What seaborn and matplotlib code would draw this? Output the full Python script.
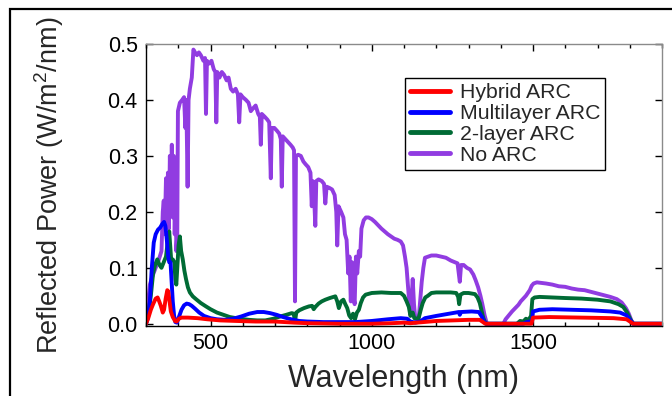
import matplotlib
matplotlib.use("Agg")
import matplotlib.pyplot as plt
from matplotlib.patches import Rectangle
from matplotlib.ticker import MultipleLocator, FormatStrFormatter
import seaborn as sns

# ---- data (wavelength in nm, power in W/m^2/nm) ----
noarc_wl = [300, 305, 312, 320, 330, 340, 348, 352, 355, 358, 362, 365, 368, 371, 374, 377,
            380, 383, 386, 389, 392, 394, 397, 399, 405, 412, 418, 422, 425, 429, 432, 436,
            442, 447, 452, 458, 464, 470, 478, 483, 486, 489, 496, 503, 510, 515, 518, 521,
            528, 535, 542, 550, 556, 563, 570, 578, 585, 589, 593, 600, 610, 618, 625, 632,
            640, 648, 653, 656, 659, 668, 676, 682, 687, 690, 698, 706, 713, 718, 721, 724,
            732, 740, 748, 755, 759, 762, 765, 772, 780, 788, 795, 803, 810, 814, 817, 821,
            825, 828, 835, 845, 852, 856, 860, 868, 877, 885, 890, 893, 897, 905, 912, 917,
            922, 927, 931, 935, 939, 943, 947, 951, 955, 960, 964, 968, 975, 982, 990, 1000,
            1010, 1020, 1030, 1040, 1050, 1060, 1070, 1080, 1090, 1097, 1103, 1108, 1112, 1116,
            1120, 1124, 1127, 1131, 1135, 1140, 1146, 1150, 1155, 1160, 1165, 1175, 1185, 1200,
            1215, 1230, 1245, 1258, 1266, 1270, 1273, 1277, 1285, 1295, 1305, 1315, 1322, 1330,
            1337, 1343, 1350, 1357, 1380, 1408, 1415, 1425, 1435, 1445, 1455, 1462, 1470, 1478,
            1484, 1490, 1496, 1502, 1512, 1525, 1540, 1560, 1580, 1600, 1620, 1640, 1660, 1680,
            1700, 1720, 1740, 1760, 1775, 1788, 1797, 1805, 1812, 1900]
noarc_val = [0.0, 0.03, 0.07, 0.085, 0.10, 0.115, 0.13, 0.20, 0.22, 0.16, 0.26, 0.19, 0.27, 0.17, 0.30, 0.21,
             0.32, 0.19, 0.30, 0.16, 0.25, 0.13, 0.16, 0.38, 0.395, 0.40, 0.405, 0.35, 0.40, 0.245, 0.40, 0.42,
             0.44, 0.49, 0.485, 0.48, 0.485, 0.48, 0.47, 0.475, 0.375, 0.47, 0.465, 0.47, 0.455, 0.45, 0.36, 0.45,
             0.44, 0.45, 0.445, 0.435, 0.44, 0.42, 0.415, 0.42, 0.41, 0.36, 0.41, 0.405, 0.40, 0.395, 0.38, 0.385,
             0.39, 0.375, 0.37, 0.32, 0.375, 0.37, 0.365, 0.36, 0.26, 0.35, 0.35, 0.345, 0.34, 0.33, 0.245, 0.335,
             0.33, 0.325, 0.32, 0.315, 0.31, 0.04, 0.30, 0.302, 0.30, 0.29, 0.285, 0.28, 0.27, 0.21, 0.255, 0.23,
             0.175, 0.255, 0.258, 0.255, 0.25, 0.215, 0.245, 0.243, 0.24, 0.23, 0.20, 0.14, 0.21, 0.20, 0.19, 0.16,
             0.15, 0.09, 0.12, 0.04, 0.11, 0.05, 0.035, 0.12, 0.09, 0.13, 0.12, 0.17, 0.185, 0.19, 0.19, 0.187,
             0.182, 0.176, 0.17, 0.165, 0.16, 0.156, 0.152, 0.15, 0.147, 0.14, 0.12, 0.10, 0.07, 0.04,
             0.015, 0.05, 0.08, 0.035, 0.01, 0.005, 0.012, 0.04, 0.075, 0.10, 0.118, 0.12, 0.122, 0.122,
             0.12, 0.118, 0.113, 0.11, 0.108, 0.09, 0.075, 0.105, 0.105, 0.10, 0.097, 0.088, 0.078, 0.065,
             0.05, 0.035, 0.015, 0.0, 0.0, 0.0, 0.008, 0.015, 0.022, 0.028, 0.034, 0.04, 0.045, 0.05,
             0.055, 0.06, 0.068, 0.072, 0.074, 0.073, 0.072, 0.07, 0.067, 0.066, 0.063, 0.061, 0.06, 0.057,
             0.054, 0.051, 0.048, 0.044, 0.038, 0.028, 0.018, 0.006, 0.0, 0.0]

twolayer_wl = [300, 308, 315, 322, 328, 335, 342, 348, 355, 362, 368, 372, 375, 378, 383, 388,
               391, 394, 397, 401, 405, 409, 414, 419, 424, 430, 436, 445, 455, 470, 486, 500,
               520, 540, 560, 590, 620, 645, 670, 695, 716, 735, 752, 758, 762, 766, 775, 790,
               805, 815, 820, 825, 835, 845, 856, 870, 887, 893, 898, 905, 912, 918, 924, 930,
               936, 942, 948, 954, 960, 966, 973, 981, 1000, 1030, 1060, 1090, 1100, 1108, 1115, 1120,
               1127, 1132, 1145, 1152, 1158, 1166, 1174, 1185, 1200, 1220, 1245, 1262, 1268, 1271, 1275, 1285,
               1300, 1320, 1328, 1335, 1341, 1346, 1352, 1356, 1450, 1460, 1470, 1478, 1486, 1494, 1498, 1505,
               1520, 1560, 1600, 1650, 1700, 1740, 1765, 1780, 1792, 1802, 1810, 1900]
twolayer_val = [0.0, 0.02, 0.05, 0.09, 0.105, 0.115, 0.105, 0.10, 0.11, 0.12, 0.15, 0.165, 0.14, 0.115, 0.115, 0.11,
                0.08, 0.07, 0.10, 0.14, 0.156, 0.13, 0.115, 0.095, 0.08, 0.065, 0.056, 0.049, 0.044, 0.037, 0.031, 0.026,
                0.02, 0.016, 0.012, 0.009, 0.007, 0.006, 0.006, 0.009, 0.013, 0.016, 0.019, 0.018, 0.004, 0.02, 0.024, 0.028,
                0.031, 0.032, 0.026, 0.03, 0.036, 0.04, 0.043, 0.046, 0.049, 0.04, 0.028, 0.04, 0.043, 0.035, 0.028, 0.015,
                0.01, 0.018, 0.008, 0.02, 0.025, 0.037, 0.047, 0.052, 0.055, 0.056, 0.055, 0.055, 0.05, 0.04, 0.03, 0.014,
                0.02, 0.01, 0.009, 0.025, 0.037, 0.047, 0.05, 0.055, 0.056, 0.056, 0.056, 0.055, 0.048, 0.035, 0.052, 0.055,
                0.055, 0.053, 0.047, 0.037, 0.022, 0.01, 0.002, 0.0, 0.0, 0.005, 0.004, 0.009, 0.007, 0.014, 0.044, 0.047,
                0.048, 0.047, 0.046, 0.045, 0.043, 0.04, 0.035, 0.03, 0.02, 0.008, 0.0, 0.0]

multi_wl = [300, 306, 312, 318, 324, 330, 337, 344, 350, 356, 360, 363, 366, 369, 372, 376,
            379, 383, 387, 391, 396, 402, 410, 418, 426, 434, 442, 452, 465, 480, 500, 520,
            545, 570, 595, 620, 645, 665, 685, 705, 725, 750, 775, 800, 850, 900, 950, 1000,
            1050, 1090, 1110, 1120, 1135, 1150, 1165, 1200, 1240, 1270, 1273, 1277, 1310, 1332, 1342, 1348,
            1355, 1470, 1480, 1490, 1497, 1500, 1520, 1560, 1620, 1680, 1740, 1770, 1790, 1802, 1810, 1900]
multi_val = [0.0, 0.01, 0.04, 0.10, 0.145, 0.16, 0.168, 0.172, 0.178, 0.182, 0.175, 0.16, 0.14, 0.12, 0.11, 0.11,
             0.08, 0.04, 0.015, 0.003, 0.002, 0.012, 0.025, 0.033, 0.036, 0.035, 0.032, 0.027, 0.02, 0.014, 0.01, 0.008,
             0.007, 0.009, 0.013, 0.018, 0.021, 0.021, 0.019, 0.016, 0.012, 0.008, 0.005, 0.004, 0.003, 0.003, 0.003, 0.005,
             0.008, 0.01, 0.009, 0.004, 0.002, 0.004, 0.01, 0.014, 0.018, 0.021, 0.016, 0.021, 0.022, 0.021, 0.012, 0.004,
             0.0, 0.0, 0.003, 0.004, 0.005, 0.022, 0.025, 0.026, 0.025, 0.024, 0.022, 0.02, 0.015, 0.006, 0.0, 0.0]

hybrid_wl = [300, 307, 315, 322, 330, 336, 341, 346, 352, 356, 361, 366, 369, 373, 377, 383,
             390, 395, 402, 410, 430, 460, 490, 530, 580, 640, 700, 760, 800, 900, 1000, 1060,
             1100, 1120, 1160, 1200, 1250, 1300, 1335, 1345, 1352, 1495, 1500, 1550, 1650, 1750, 1790, 1803,
             1810, 1900]
hybrid_val = [0.0, 0.01, 0.025, 0.035, 0.045, 0.047, 0.04, 0.032, 0.02, 0.025, 0.045, 0.06, 0.058, 0.04, 0.022, 0.012,
              0.005, 0.004, 0.009, 0.011, 0.011, 0.01, 0.008, 0.006, 0.005, 0.004, 0.004, 0.002, 0.001, 0.0, 0.0, 0.001,
              0.002, 0.001, 0.003, 0.005, 0.006, 0.007, 0.007, 0.003, 0.0, 0.0, 0.011, 0.012, 0.011, 0.01, 0.008, 0.003,
              0.0, 0.0]

labels = ["Hybrid ARC", "Multilayer ARC", "2-layer ARC", "No ARC"]
colors = ["#ff0000", "#0000ff", "#006b35", "#913ce1"]

sns.set_theme(style="ticks")
plt.rcParams["font.family"] = ["Liberation Sans", "DejaVu Sans"]
plt.rcParams["mathtext.fontset"] = "custom"
plt.rcParams["mathtext.rm"] = "Liberation Sans"

fig = plt.figure(figsize=(6.72, 3.96), dpi=100)
ax = fig.add_axes([146 / 672, 1 - 326 / 396, 516 / 672, 282 / 396])

# drawn back to front: no ARC underneath, hybrid on top
series = [(noarc_wl, noarc_val, 3), (twolayer_wl, twolayer_val, 2),
          (multi_wl, multi_val, 1), (hybrid_wl, hybrid_val, 0)]
for wl, val, i in series:
    sns.lineplot(x=wl, y=val, ax=ax, color=colors[i], lw=2.8, label=labels[i],
                 sort=False, estimator=None)

ax.set_xlim(300, 1900)
ax.set_ylim(-0.004, 0.5)
ax.set_xticks([500, 1000, 1500])
ax.xaxis.set_minor_locator(MultipleLocator(100))
ax.yaxis.set_major_locator(MultipleLocator(0.1))
ax.yaxis.set_major_formatter(FormatStrFormatter("%.1f"))
ax.tick_params(which="both", direction="in", top=True, right=True, colors="black",
               labelsize=15.5)
ax.tick_params(axis="y", pad=6)
ax.tick_params(axis="x", pad=5)
ax.tick_params(which="major", length=5, width=1)
ax.tick_params(which="minor", length=3, width=1)

for side in ["left", "bottom"]:
    ax.spines[side].set_color("black")
for side in ["top", "right"]:
    ax.spines[side].set_color("#8a8a8a")
for sp in ax.spines.values():
    sp.set_linewidth(1)

ax.set_xlabel("Wavelength (nm)", fontsize=22, labelpad=7)
ax.set_ylabel("Reflected Power (W/m$^2$/nm)", fontsize=19.5, labelpad=30)

handles, labs = ax.get_legend_handles_labels()
order = [labs.index(l) for l in labels]
leg = ax.legend([handles[k] for k in order], labels, loc="upper left",
                bbox_to_anchor=(0.502, 0.879), fontsize=15.3, frameon=True,
                fancybox=False, edgecolor="black", handlelength=1.85,
                handletextpad=0.47, labelspacing=0.08, borderpad=0.25,
                borderaxespad=0)
leg.get_frame().set_linewidth(1)
leg.get_frame().set_alpha(1)
for h in leg.get_lines():
    h.set_linewidth(3.5)

# outer figure frame (only its top and left edges are inside the picture)
fig.patches.append(Rectangle((10 / 672, -0.1), 1.2, 1 - 9 / 396 + 0.1, transform=fig.transFigure,
                             fill=False, edgecolor="black", lw=1.6))

fig.savefig("out.png", dpi=100)
